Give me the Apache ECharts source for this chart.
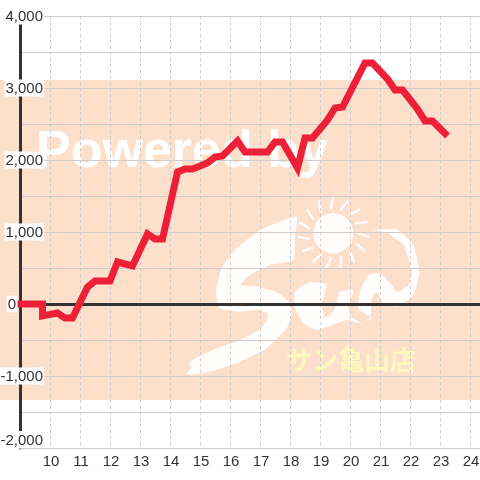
<!DOCTYPE html>
<html><head><meta charset="utf-8">
<style>html,body{margin:0;padding:0;background:#fff}#c{width:480px;height:480px}</style>
<script src="https://cdn.jsdelivr.net/npm/echarts@6/dist/echarts.min.js"></script>
</head><body><div id="c"></div>
<script>
const hours = [8.92,9.75,9.75,10.25,10.5,10.75,11.25,11.5,12,12.25,12.75,13.25,13.5,13.75,14.25,14.5,14.75,15.25,15.5,15.75,16.25,16.5,17.25,17.5,17.75,18.25,18.5,18.75,19.25,19.5,19.75,20.5,20.75,21.25,21.5,21.75,22.25,22.5,22.75,23.25];
const values = [0,0,-165,-125,-195,-195,235,320,320,583,528,972,903,903,1833,1875,1875,1958,2042,2055,2264,2111,2111,2250,2250,1889,2305,2305,2555,2722,2736,3347,3347,3125,2972,2972,2708,2542,2542,2333];
const watermarkTitle = 'Powered by';
const watermarkShop = 'サン亀山店';

const z = -5, logoFill = 'rgba(255,255,255,0.96)';
const L = (pts) => pts.map(p => [180 + p[0] / 3, 195 + p[1] / 3]);
const poly = (pts, smooth) => ({type:'polygon', z, shape:{points:L(pts), smooth:smooth||0}, style:{fill:logoFill}});
const rays = [];
for (let a = 0; a < 360; a += 24) {
  const r = a * Math.PI / 180, cx = 333.3, cy = 233.3;
  rays.push({type:'line', z, shape:{x1:cx+Math.cos(r)*25, y1:cy+Math.sin(r)*25, x2:cx+Math.cos(r+0.1)*35, y2:cy+Math.sin(r+0.1)*35},
    style:{stroke:'rgba(255,255,255,0.85)', lineWidth:2.5, lineCap:'round'}});
}
const graphics = [
  {type:'rect', z:-10, shape:{x:0,y:80,width:480,height:320}, style:{fill:'#fce0cc'}},
  {type:'text', z, style:{x:36, y:152.5, text:watermarkTitle, fill:'#fff', font:'bold 52px "Liberation Sans"', textVerticalAlign:'middle'}},
  {type:'circle', z, shape:{cx:333.3, cy:233.3, r:20}, style:{fill:logoFill}},
  ...rays,
  poly([[350,65],[345,130],[340,195],[270,210],[210,240],[180,270],[230,275],[290,290],[325,320],[335,350],[320,400],[260,460],[180,500],[90,530],[20,538],[35,515],[25,505],[45,490],[100,465],[180,435],[245,400],[265,360],[240,345],[170,350],[120,340],[108,290],[125,220],[170,160],[240,105],[300,80]], 0.15),
  poly([[345,290],[390,262],[440,268],[425,330],[435,368],[450,360],[465,340],[480,290],[520,285],[505,335],[515,365],[545,385],[575,370],[535,340],[540,290],[565,240],[600,235],[635,270],[650,292],[685,270],[695,225],[670,150],[620,112],[575,105],[650,103],[700,150],[718,230],[700,300],[650,335],[610,325],[590,290],[575,310],[570,370],[545,385],[500,375],[470,385],[410,405],[370,385],[345,340]], 0.15),
  {type:'text', z, style:{x:351, y:360, text:watermarkShop, fill:'#fdf8bc', font:'bold 26px "Noto Sans CJK JP"', textAlign:'center', textVerticalAlign:'middle'}}
];

const chart = echarts.init(document.getElementById('c'), null, {renderer:'canvas'});
const textStyle = {color:'#333', fontSize:15, fontFamily:'"Liberation Sans"'};
chart.setOption({
  animation:false,
  graphic:{elements:graphics},
  grid:{left:20, right:0, top:16, bottom:32, outerBoundsMode:'none', containLabel:false},
  xAxis:[{
    type:'value', min:9, max:9+460/30, interval:1, position:'bottom',
    axisLine:{onZero:false, lineStyle:{color:'#ccc', width:1}},
    axisTick:{show:false},
    axisLabel:{color:'#333', fontSize:15, fontFamily:'"Liberation Sans"', margin:6, padding:[0,0,0,2], showMaxLabel:false, showMinLabel:false,
      formatter:v => Number.isInteger(v) && v > 9 ? String(v) : ''},
    splitLine:{show:true, lineStyle:{color:'#ccc', type:[3,3], width:1}}
  },{
    type:'value', min:9, max:9+460/30, interval:1,
    axisLine:{show:true, onZero:true, lineStyle:{color:'#333', width:3}},
    axisTick:{show:false}, axisLabel:{show:false}, splitLine:{show:false}
  }],
  yAxis:{
    type:'value', min:-2000, max:4000, interval:500,
    axisLine:{show:true, onZero:false, lineStyle:{color:'#333', width:3}},
    axisTick:{show:false},
    splitLine:{lineStyle:{color:'#ccc', width:1}},
    axisLabel:{
      margin:-24, align:'right', verticalAlignMinLabel:'bottom',
      formatter:v => v === 0 ? '{a|0}{s|}' : (v % 1000 === 0 ? '{a|' + v.toLocaleString('en-US') + '}' : ''),
      rich:{a:{...textStyle, backgroundColor:'#fff', padding:[2,1,0,1]}, s:{width:27, height:1}}
    }
  },
  series:[{
    type:'line', xAxisIndex:0, data:hours.map((h,i)=>[h,values[i]]),
    showSymbol:false, symbol:'none', clip:false, z:3,
    lineStyle:{color:'#ee2038', width:7, join:'miter', miterLimit:10, cap:'butt'}
  }]
});
</script></body></html>
